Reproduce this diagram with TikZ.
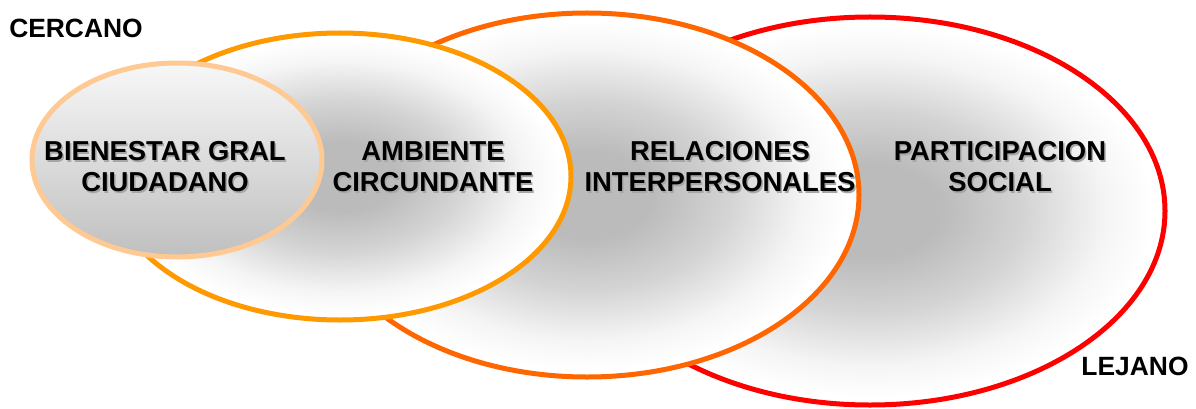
\documentclass[tikz,border=0pt]{standalone}
\usepackage{fontspec}
\setmainfont{Liberation Sans}
\usetikzlibrary{shapes.geometric}
\definecolor{peach}{HTML}{FFC993}
\definecolor{orangeA}{HTML}{FF9900}
\definecolor{orangeB}{HTML}{FF6600}
\definecolor{redC}{HTML}{FF0000}
\definecolor{gcore}{HTML}{BBBBBB}
\pgfdeclareradialshading{softgray}{\pgfpointorigin}{%
  color(0bp)=(gcore); color(6bp)=(gcore); color(13bp)=(black!17); color(20bp)=(black!4); color(24bp)=(white); color(50bp)=(white)}
\tikzset{
  ring/.style={ellipse, line width=5bp, inner sep=0pt, shading=softgray},
  lbl/.style={font=\bfseries\fontsize{27.5}{31}\selectfont, align=center, text=black, inner sep=0pt},
  lblshadow/.style={lbl, text=black!35},
  side/.style={font=\bfseries\fontsize{26.5}{30}\selectfont, text=black, inner sep=0pt}
}
\begin{document}
\begin{tikzpicture}[x=1bp,y=1bp]
\useasboundingbox (0,0) rectangle (1196,408);
% ellipses, back to front
\node[ring, draw=redC, minimum width=590bp, minimum height=388bp] (soc) at (870,197) {};
\node[ring, draw=orangeB, minimum width=544bp, minimum height=364bp] (rel) at (587,213) {};
\node[ring, draw=orangeA, minimum width=462bp, minimum height=287bp] (amb) at (340,231.5) {};
\node[ellipse, line width=5bp, inner sep=0pt, draw=peach, top color=white!97!black, bottom color=black!25,
      minimum width=290bp, minimum height=194bp] (bien) at (177,248) {};
% label shadows
\node[lblshadow] (bien-s) at (166.5,239.5) {BIENESTAR GRAL\\CIUDADANO};
\node[lblshadow] (amb-s) at (434.5,239.5) {AMBIENTE\\CIRCUNDANTE};
\node[lblshadow] (rel-s) at (721.5,239.5) {RELACIONES\\INTERPERSONALES};
\node[lblshadow] (soc-s) at (1001.5,239.5) {PARTICIPACION\\SOCIAL};
% labels
\node[lbl] (bien-t) at (165,241) {BIENESTAR GRAL\\CIUDADANO};
\node[lbl] (amb-t) at (433,241) {AMBIENTE\\CIRCUNDANTE};
\node[lbl] (rel-t) at (720,241) {RELACIONES\\INTERPERSONALES};
\node[lbl] (soc-t) at (1000,241) {PARTICIPACION\\SOCIAL};
\node[side] (near) at (76,380) {CERCANO};
\node[side] (far) at (1135,42) {LEJANO};
\end{tikzpicture}
\end{document}
